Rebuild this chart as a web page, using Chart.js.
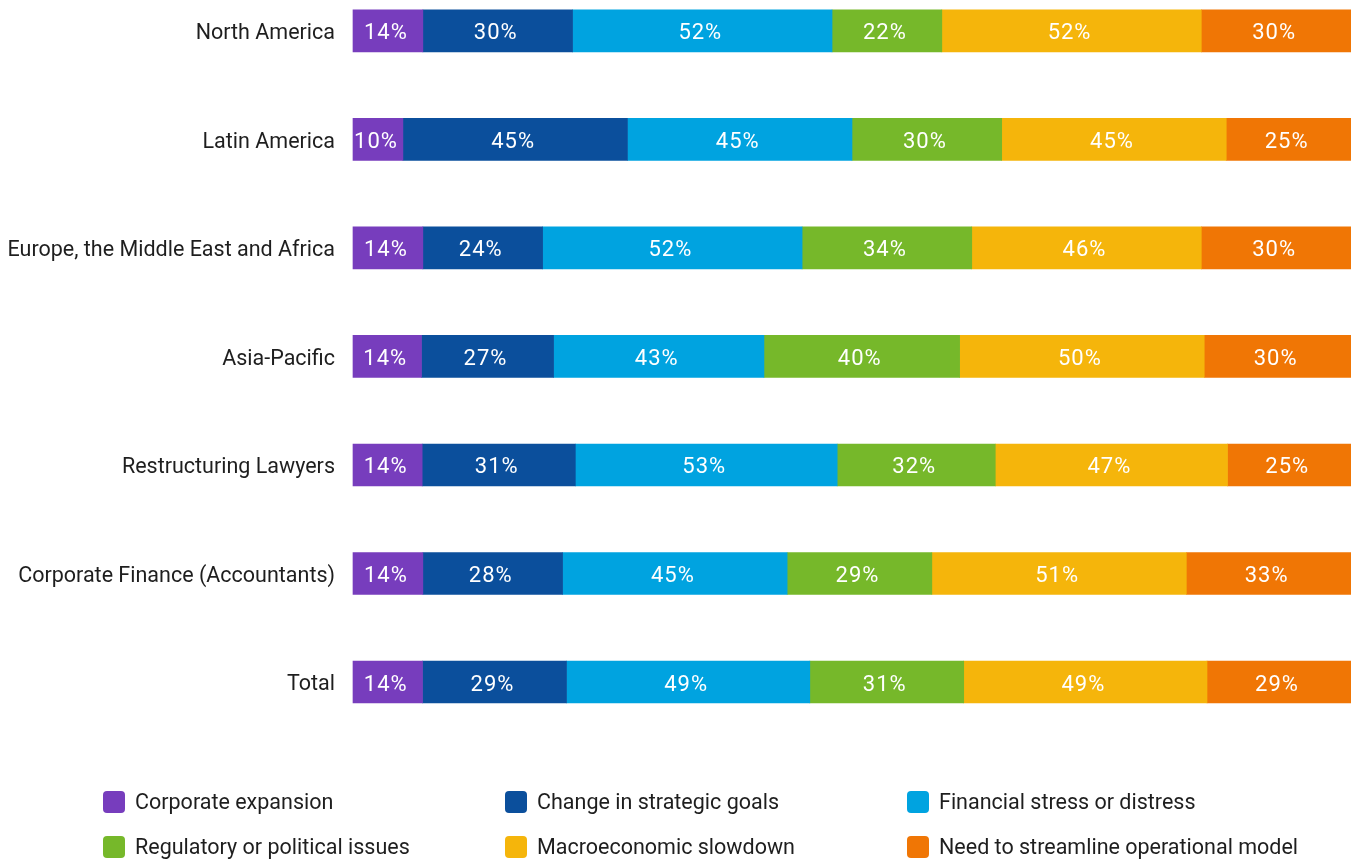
<!DOCTYPE html>
<html>
<head>
<meta charset="utf-8">
<script src="https://cdn.jsdelivr.net/npm/chart.js@4/dist/chart.umd.min.js"></script>
<style>
  html, body { margin: 0; padding: 0; background: #ffffff; }
  #wrap { position: relative; width: 1351px; height: 859px; }
</style>
</head>
<body>
<div id="wrap"><canvas id="chart" width="1351" height="859"></canvas></div>
<script>
// Regions / respondent groups (top to bottom)
const categories = [
  'North America',
  'Latin America',
  'Europe, the Middle East and Africa',
  'Asia-Pacific',
  'Restructuring Lawyers',
  'Corporate Finance (Accountants)',
  'Total'
];

// Share of respondents citing each driver (%)
const corporateExpansion   = [14, 10, 14, 14, 14, 14, 14];
const strategicGoals       = [30, 45, 24, 27, 31, 28, 29];
const financialStress      = [52, 45, 52, 43, 53, 45, 49];
const regulatoryPolitical  = [22, 30, 34, 40, 32, 29, 31];
const macroSlowdown        = [52, 45, 46, 50, 47, 51, 49];
const streamlineModel      = [30, 25, 30, 30, 25, 33, 29];

const seriesNames = [
  'Corporate expansion',
  'Change in strategic goals',
  'Financial stress or distress',
  'Regulatory or political issues',
  'Macroeconomic slowdown',
  'Need to streamline operational model'
];
const seriesValues = [
  corporateExpansion, strategicGoals, financialStress,
  regulatoryPolitical, macroSlowdown, streamlineModel
];
const seriesColors = ['#773dbd', '#0b4f9c', '#00a3e0', '#76b82a', '#f5b50b', '#f07605'];

const FONT = 'Roboto, "Noto Sans", Arial, sans-serif';
const TEXT = '#1e1e1e';

// Each row is stretched to the full width: segment length = value / row total
const rowTotals = categories.map((_, i) =>
  seriesValues.reduce((s, arr) => s + arr[i], 0));

const datasets = seriesValues.map((vals, k) => ({
  label: seriesNames[k],
  data: vals.map((v, i) => v / rowTotals[i] * 100),
  raw: vals,
  backgroundColor: seriesColors[k],
  borderWidth: 0,
  barThickness: 42,
  clip: false
}));

// White value labels centred in each segment
const valueLabels = {
  id: 'valueLabels',
  afterDatasetsDraw(chart) {
    const ctx = chart.ctx;
    ctx.save();
    ctx.fillStyle = '#ffffff';
    ctx.font = '22px ' + FONT;
    ctx.letterSpacing = '1px';
    ctx.textAlign = 'center';
    ctx.textBaseline = 'middle';
    chart.data.datasets.forEach((ds, k) => {
      chart.getDatasetMeta(k).data.forEach((bar, i) => {
        const p = bar.getProps(['x', 'y', 'base'], true);
        ctx.fillText(ds.raw[i] + '%', (p.x + p.base) / 2 - 2, p.y + 3);
      });
    });
    ctx.restore();
  }
};

// Three-column legend under the bars
const gridLegend = {
  id: 'gridLegend',
  afterDraw(chart) {
    const ctx = chart.ctx;
    const colX = [103, 505, 907];
    const rowY = [802, 847];
    ctx.save();
    ctx.font = '21.5px ' + FONT;
    ctx.textBaseline = 'middle';
    ctx.textAlign = 'left';
    chart.data.datasets.forEach((ds, k) => {
      const x = colX[k % 3];
      const y = rowY[Math.floor(k / 3)];
      ctx.fillStyle = ds.backgroundColor;
      ctx.beginPath();
      ctx.roundRect(x, y - 11, 22, 22, 4);
      ctx.fill();
      ctx.fillStyle = TEXT;
      ctx.fillText(ds.label, x + 32, y + 2);
    });
    ctx.restore();
  }
};

new Chart(document.getElementById('chart'), {
  type: 'bar',
  data: { labels: categories, datasets },
  options: {
    indexAxis: 'y',
    responsive: false,
    animation: false,
    layout: { padding: { top: 29, bottom: 177, right: 0, left: 0 } },
    plugins: {
      legend: { display: false },
      tooltip: { enabled: false }
    },
    scales: {
      x: {
        stacked: true,
        min: 0,
        max: 100,
        display: false
      },
      y: {
        stacked: true,
        offset: false,
        border: { display: false },
        grid: { display: false, drawTicks: false },
        ticks: {
          autoSkip: false,
          padding: 18,
          labelOffset: 3,
          color: TEXT,
          font: { family: FONT, size: 21.5 }
        },
        afterFit(scale) { scale.width = 353; }
      }
    }
  },
  plugins: [valueLabels, gridLegend]
});
</script>
</body>
</html>
